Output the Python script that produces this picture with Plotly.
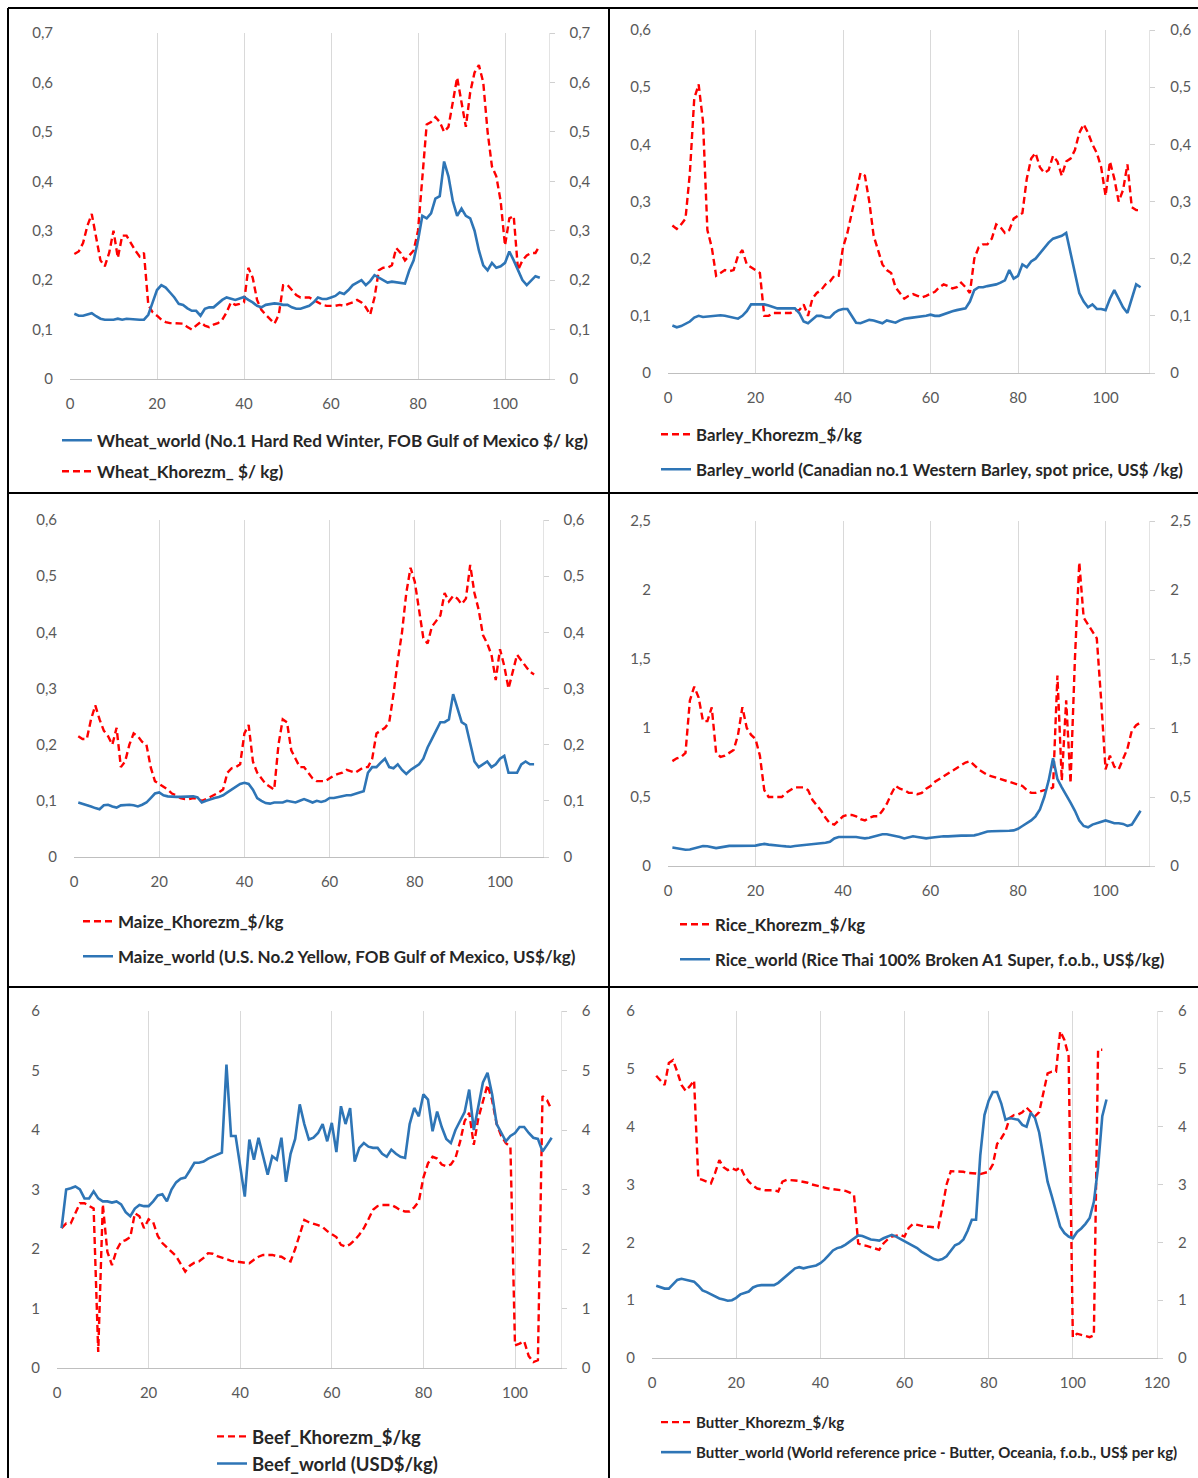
import plotly.graph_objects as go

wheat_world = [0.132,0.128,0.128,0.13,0.133,0.127,0.122,0.12,0.12,0.12,0.122,0.12,0.122,0.121,0.12,0.12,0.12,0.13,0.155,0.18,
0.19,0.185,0.175,0.165,0.152,0.15,0.143,0.138,0.138,0.128,0.142,0.145,0.145,0.152,0.16,0.165,0.163,0.16,0.163,0.166,
0.16,0.155,0.148,0.145,0.15,0.152,0.153,0.152,0.15,0.15,0.145,0.142,0.142,0.145,0.148,0.155,0.165,0.162,0.162,0.165,
0.168,0.175,0.172,0.18,0.19,0.195,0.2,0.19,0.198,0.21,0.205,0.2,0.195,0.197,0.196,0.195,0.193,0.22,0.24,0.28,
0.33,0.325,0.335,0.365,0.37,0.44,0.41,0.36,0.33,0.345,0.33,0.325,0.3,0.26,0.23,0.22,0.235,0.225,0.228,0.235,
0.258,0.24,0.22,0.2,0.19,0.2,0.208,0.205]
wheat_khorezm = [0.253,0.258,0.275,0.31,0.334,0.29,0.24,0.228,0.255,0.3,0.245,0.29,0.29,0.275,0.26,0.248,0.255,0.15,0.135,0.128,
0.12,0.115,0.113,0.113,0.113,0.112,0.105,0.1,0.108,0.115,0.108,0.105,0.11,0.113,0.12,0.135,0.155,0.15,0.152,0.155,
0.225,0.205,0.16,0.14,0.13,0.12,0.112,0.13,0.19,0.19,0.18,0.17,0.165,0.165,0.165,0.16,0.155,0.15,0.148,0.148,
0.148,0.15,0.148,0.152,0.155,0.16,0.155,0.145,0.13,0.165,0.22,0.225,0.225,0.23,0.265,0.255,0.24,0.25,0.26,0.3,
0.4,0.515,0.52,0.53,0.52,0.5,0.51,0.56,0.61,0.56,0.51,0.58,0.62,0.635,0.6,0.5,0.43,0.41,0.36,0.27,
0.325,0.33,0.22,0.24,0.25,0.255,0.255,0.27]

barley_khorezm = [0.258,0.252,0.26,0.27,0.35,0.48,0.505,0.44,0.25,0.22,0.17,0.175,0.18,0.178,0.18,0.205,0.215,0.19,0.185,0.18,
0.175,0.1,0.1,0.105,0.105,0.105,0.105,0.105,0.11,0.11,0.12,0.1,0.13,0.14,0.145,0.155,0.16,0.17,0.17,0.22,
0.245,0.28,0.31,0.35,0.345,0.3,0.24,0.215,0.19,0.18,0.175,0.15,0.14,0.13,0.135,0.138,0.135,0.132,0.135,0.138,
0.142,0.15,0.155,0.152,0.148,0.15,0.158,0.15,0.14,0.2,0.22,0.225,0.225,0.235,0.26,0.255,0.245,0.25,0.27,0.275,
0.28,0.34,0.375,0.385,0.36,0.35,0.355,0.38,0.37,0.345,0.37,0.375,0.39,0.42,0.435,0.42,0.4,0.385,0.36,0.31,
0.37,0.34,0.3,0.32,0.365,0.29,0.285,0.285]
barley_world = [0.083,0.08,0.082,0.086,0.09,0.097,0.1,0.098,0.099,0.1,0.1,0.101,0.1,0.098,0.097,0.095,0.1,0.108,0.12,0.12,
0.12,0.12,0.118,0.116,0.113,0.113,0.113,0.113,0.113,0.105,0.09,0.087,0.093,0.1,0.1,0.097,0.097,0.105,0.11,0.112,
0.112,0.1,0.088,0.087,0.09,0.093,0.092,0.09,0.087,0.092,0.09,0.088,0.092,0.095,0.096,0.097,0.097,0.098,0.1,0.102,
0.1,0.1,0.103,0.105,0.108,0.11,0.112,0.113,0.125,0.145,0.15,0.15,0.152,0.153,0.155,0.158,0.162,0.18,0.165,0.17,
0.19,0.185,0.195,0.2,0.21,0.22,0.228,0.235,0.237,0.24,0.245,0.21,0.17,0.14,0.125,0.115,0.12,0.112,0.112,0.11,
0.13,0.145,0.13,0.115,0.105,0.13,0.155,0.15]

maize_khorezm = [0.215,0.21,0.21,0.245,0.27,0.245,0.225,0.215,0.2,0.23,0.16,0.17,0.2,0.22,0.215,0.205,0.2,0.16,0.135,0.13,
0.125,0.12,0.113,0.11,0.105,0.103,0.103,0.105,0.103,0.1,0.103,0.107,0.11,0.115,0.12,0.15,0.158,0.16,0.165,0.22,
0.235,0.17,0.15,0.14,0.13,0.125,0.12,0.2,0.245,0.24,0.19,0.175,0.16,0.16,0.15,0.14,0.135,0.135,0.135,0.14,
0.145,0.148,0.15,0.155,0.152,0.15,0.155,0.16,0.16,0.175,0.22,0.225,0.23,0.24,0.29,0.35,0.4,0.47,0.515,0.49,
0.44,0.39,0.38,0.41,0.42,0.43,0.47,0.455,0.465,0.46,0.45,0.46,0.52,0.47,0.44,0.395,0.38,0.36,0.315,0.37,
0.34,0.3,0.33,0.36,0.35,0.34,0.33,0.325]
maize_world = [0.097,0.095,0.093,0.09,0.087,0.085,0.092,0.093,0.09,0.088,0.092,0.093,0.093,0.092,0.09,0.093,0.097,0.105,0.113,0.115,
0.11,0.108,0.107,0.107,0.107,0.107,0.107,0.108,0.106,0.097,0.1,0.103,0.105,0.107,0.11,0.115,0.12,0.125,0.13,0.132,
0.13,0.12,0.105,0.1,0.096,0.095,0.097,0.097,0.097,0.1,0.098,0.097,0.1,0.103,0.1,0.097,0.1,0.098,0.1,0.105,
0.105,0.107,0.108,0.11,0.11,0.113,0.115,0.117,0.15,0.16,0.16,0.168,0.175,0.16,0.158,0.165,0.155,0.148,0.155,0.16,
0.165,0.175,0.195,0.21,0.225,0.24,0.24,0.245,0.29,0.265,0.24,0.235,0.2,0.17,0.16,0.165,0.17,0.16,0.165,0.175,
0.18,0.15,0.15,0.15,0.165,0.17,0.165,0.165]

rice_khorezm = [0.76,0.78,0.79,0.82,1.2,1.3,1.22,1.05,1.05,1.15,0.82,0.79,0.8,0.82,0.84,0.95,1.15,1.0,0.95,0.92,
0.8,0.55,0.5,0.5,0.5,0.5,0.53,0.55,0.57,0.57,0.57,0.55,0.48,0.44,0.4,0.35,0.31,0.3,0.33,0.36,
0.37,0.37,0.36,0.34,0.33,0.35,0.36,0.36,0.4,0.45,0.52,0.58,0.56,0.55,0.53,0.53,0.52,0.53,0.56,0.58,
0.61,0.63,0.65,0.67,0.69,0.71,0.73,0.75,0.76,0.73,0.7,0.68,0.66,0.65,0.64,0.63,0.62,0.61,0.6,0.59,
0.58,0.55,0.53,0.53,0.54,0.55,0.55,0.57,1.38,0.62,1.2,0.6,1.5,2.2,1.8,1.75,1.7,1.65,1.2,0.7,
0.8,0.72,0.7,0.78,0.85,0.98,1.02,1.04]
rice_world = [0.134,0.13,0.125,0.118,0.12,0.128,0.138,0.145,0.143,0.135,0.13,0.135,0.142,0.146,0.146,0.146,0.146,0.146,0.146,0.148,
0.155,0.16,0.155,0.15,0.148,0.145,0.142,0.14,0.145,0.148,0.15,0.152,0.155,0.16,0.163,0.168,0.175,0.2,0.21,0.21,
0.212,0.215,0.21,0.205,0.2,0.205,0.215,0.225,0.23,0.23,0.225,0.22,0.21,0.2,0.205,0.215,0.21,0.205,0.2,0.205,
0.21,0.215,0.215,0.215,0.218,0.22,0.22,0.22,0.222,0.222,0.23,0.24,0.25,0.252,0.252,0.255,0.255,0.255,0.258,0.27,
0.29,0.31,0.33,0.36,0.41,0.5,0.62,0.78,0.63,0.57,0.52,0.46,0.4,0.33,0.29,0.28,0.3,0.31,0.32,0.33,
0.32,0.31,0.31,0.305,0.29,0.3,0.35,0.4]

beef_khorezm = [2.35,2.43,2.43,2.6,2.77,2.77,2.72,2.68,0.27,2.75,1.95,1.73,1.98,2.12,2.15,2.2,2.6,2.55,2.35,2.5,
2.45,2.22,2.1,2.03,1.95,1.88,1.75,1.62,1.72,1.77,1.79,1.85,1.93,1.92,1.88,1.86,1.83,1.8,1.79,1.79,
1.77,1.76,1.82,1.87,1.9,1.9,1.9,1.88,1.87,1.82,1.79,2.0,2.25,2.49,2.45,2.43,2.4,2.37,2.3,2.25,
2.2,2.07,2.04,2.08,2.15,2.24,2.35,2.5,2.66,2.72,2.74,2.74,2.74,2.7,2.65,2.63,2.63,2.7,2.8,3.2,
3.44,3.55,3.52,3.42,3.39,3.42,3.53,3.8,4.15,4.29,3.75,4.2,4.5,4.76,4.5,4.1,3.9,3.78,3.72,0.38,
0.41,0.45,0.2,0.1,0.13,4.57,4.5,4.34]
beef_world = [2.35,3.0,3.02,3.05,3.0,2.85,2.85,2.97,2.85,2.8,2.8,2.78,2.8,2.75,2.62,2.55,2.68,2.74,2.72,2.72,
2.8,2.9,2.92,2.8,3.0,3.12,3.18,3.2,3.32,3.45,3.45,3.47,3.52,3.55,3.58,3.62,5.1,3.9,3.9,3.4,
2.88,3.84,3.5,3.87,3.55,3.25,3.56,3.5,3.87,3.13,3.6,3.85,4.43,4.1,3.84,3.87,3.95,4.1,3.81,4.12,
3.63,4.4,4.1,4.37,3.47,3.7,3.78,3.72,3.7,3.7,3.6,3.55,3.67,3.6,3.55,3.53,4.1,4.37,4.23,4.6,
4.51,3.98,4.31,4.05,3.85,3.78,4.0,4.15,4.3,4.68,4.0,4.4,4.8,4.96,4.6,4.1,3.95,3.81,3.9,3.95,
4.05,4.05,3.95,3.87,3.85,3.64,3.75,3.87]

butter_khorezm = [4.88,4.8,4.72,5.1,5.15,4.95,4.72,4.62,4.7,4.8,3.1,3.08,3.05,3.02,3.2,3.42,3.3,3.25,3.28,3.25,
3.3,3.15,3.05,2.98,2.93,2.91,2.9,2.9,2.9,2.88,3.05,3.08,3.08,3.07,3.06,3.05,3.03,3.0,2.98,2.97,
2.95,2.93,2.92,2.91,2.9,2.89,2.86,2.82,1.98,1.95,1.94,1.92,1.9,1.87,1.98,2.05,2.1,2.12,2.13,2.1,
2.25,2.32,2.3,2.28,2.27,2.27,2.26,2.25,2.6,3.0,3.23,3.23,3.23,3.22,3.2,3.2,3.19,3.18,3.2,3.22,
3.35,3.7,3.8,3.92,4.15,4.2,4.21,4.25,4.33,4.25,4.18,4.25,4.6,4.92,4.95,4.95,5.65,5.5,5.22,0.36,
0.42,0.4,0.38,0.36,0.39,5.33,5.33]
butter_world = [1.25,1.23,1.2,1.2,1.28,1.35,1.37,1.35,1.33,1.32,1.25,1.17,1.14,1.1,1.07,1.03,1.01,0.99,1.0,1.04,
1.1,1.12,1.15,1.22,1.25,1.26,1.26,1.27,1.26,1.3,1.36,1.42,1.48,1.55,1.57,1.55,1.57,1.59,1.6,1.64,
1.7,1.78,1.86,1.9,1.92,1.96,2.01,2.07,2.12,2.11,2.08,2.05,2.04,2.03,2.07,2.1,2.13,2.1,2.06,2.02,
1.98,1.95,1.9,1.84,1.8,1.75,1.71,1.69,1.71,1.76,1.85,1.95,1.98,2.05,2.2,2.39,2.39,3.5,4.2,4.45,
4.6,4.6,4.4,4.12,4.15,4.13,4.12,4.03,4.0,4.24,4.15,3.9,3.5,3.05,2.8,2.55,2.27,2.16,2.1,2.07,
2.18,2.24,2.32,2.42,2.7,3.3,4.18,4.47]

x_ticks = [0, 20, 40, 60, 80, 100]
x_ticks_butter = [0, 20, 40, 60, 80, 100, 120]

# legend labels
L_WHEAT_W = "Wheat_world (No.1 Hard Red Winter, FOB Gulf of Mexico $/ kg)"
L_WHEAT_K = "Wheat_Khorezm_ $/ kg)"
L_BARLEY_K = "Barley_Khorezm_$/kg"
L_BARLEY_W = "Barley_world (Canadian no.1 Western Barley, spot price, US$ /kg)"
L_MAIZE_K = "Maize_Khorezm_$/kg"
L_MAIZE_W = "Maize_world (U.S. No.2 Yellow, FOB Gulf of Mexico, US$/kg)"
L_RICE_K = "Rice_Khorezm_$/kg"
L_RICE_W = "Rice_world (Rice Thai 100% Broken A1 Super, f.o.b., US$/kg)"
L_BEEF_K = "Beef_Khorezm_$/kg"
L_BEEF_W = "Beef_world (USD$/kg)"
L_BUTTER_K = "Butter_Khorezm_$/kg"
L_BUTTER_W = "Butter_world (World reference price - Butter, Oceania, f.o.b., US$ per kg)"

# ---------------- layout geometry (page pixels) ----------------
W, H = 1198, 1478
RED = "#FF0000"
BLUE = "#2E75B6"
TICKC = "#595959"
GRID = "#D9D9D9"
FONT = "Lato, 'Open Sans', sans-serif"

def px_x(p):
    return p / W

def px_y(p):
    return 1 - p / H

panels = [
    dict(series=[(L_WHEAT_W, wheat_world, "w"), (L_WHEAT_K, wheat_khorezm, "k")],
         xpx=(70, 548.5), ypx=(379, 33), xr=110, yr=0.7, dy=0.1, xt=x_ticks,
         leg=(98, 441, 31, 17.2)),
    dict(series=[(L_BARLEY_K, barley_khorezm, "k"), (L_BARLEY_W, barley_world, "w")],
         xpx=(668, 1149.3), ypx=(373, 30), xr=110, yr=0.6, dy=0.1, xt=x_ticks,
         leg=(697, 435, 35, 16.8)),
    dict(series=[(L_MAIZE_K, maize_khorezm, "k"), (L_MAIZE_W, maize_world, "w")],
         xpx=(74, 542.6), ypx=(857, 520), xr=110, yr=0.6, dy=0.1, xt=x_ticks,
         leg=(119, 922, 35, 17)),
    dict(series=[(L_RICE_K, rice_khorezm, "k"), (L_RICE_W, rice_world, "w")],
         xpx=(668, 1149.3), ypx=(866, 521), xr=110, yr=2.5, dy=0.5, xt=x_ticks,
         leg=(716, 925, 35, 16.8)),
    dict(series=[(L_BEEF_K, beef_khorezm, "k"), (L_BEEF_W, beef_world, "w")],
         xpx=(57, 560.8), ypx=(1368, 1011), xr=110, yr=6, dy=1, xt=x_ticks,
         leg=(253, 1437, 26, 18.5)),
    dict(series=[(L_BUTTER_K, butter_khorezm, "k"), (L_BUTTER_W, butter_world, "w")],
         xpx=(652, 1157), ypx=(1358, 1011), xr=120, yr=6, dy=1, xt=x_ticks_butter,
         leg=(697, 1423, 30, 15)),
]

fig = go.Figure()
layout = dict(
    width=W, height=H, autosize=False,
    margin=dict(l=0, r=0, t=0, b=0, autoexpand=False),
    paper_bgcolor="white", plot_bgcolor="white",
    separators=", ",
    font=dict(family=FONT, color=TICKC, size=15),
    showlegend=True,
)

for i, p in enumerate(panels, start=1):
    sx = "" if i == 1 else str(i)
    xname, yname, y2name = "x" + sx, "y" + sx, "y" + str(i + 6)
    legname = "legend" + sx
    xdom = [px_x(p["xpx"][0]), px_x(p["xpx"][1])]
    ydom = [px_y(p["ypx"][0]), px_y(p["ypx"][1])]

    layout["xaxis" + sx] = dict(
        domain=xdom, anchor=yname, range=[0, p["xr"]], tickvals=p["xt"],
        showgrid=True, gridcolor=GRID, gridwidth=1, zeroline=False,
        showline=True, linecolor="#BFBFBF", linewidth=1.2, ticks="",
        ticklabelstandoff=11, tickfont=dict(size=15, color=TICKC, family=FONT),
    )
    layout["yaxis" + sx] = dict(
        domain=ydom, anchor=xname, range=[0, p["yr"]], dtick=p["dy"], tick0=0,
        showgrid=False, zeroline=False, showline=False, ticks="",
        ticklabelstandoff=16, tickfont=dict(size=15, color=TICKC, family=FONT),
    )
    layout["yaxis" + str(i + 6)] = dict(
        overlaying=yname, side="right", anchor=xname, range=[0, p["yr"]], dtick=p["dy"], tick0=0,
        showgrid=False, zeroline=False, showline=True, linecolor="#E3E3E3", linewidth=1,
        ticks="outside", ticklen=5, tickcolor="#D0D0D0",
        ticklabelstandoff=12, tickfont=dict(size=15, color=TICKC, family=FONT),
    )

    tx, row1, gap, fs = p["leg"]
    item_h = 1.3 * fs + 3
    layout[legname] = dict(
        x=px_x(tx - 41), xanchor="left",
        y=px_y(row1 - (0.58 * fs + 8.4)), yanchor="top",
        bgcolor="rgba(0,0,0,0)", borderwidth=0,
        traceorder="grouped", tracegroupgap=max(gap - item_h, 0),
        font=dict(family=FONT, size=fs, color="#262626", weight="bold"),
        itemclick=False, itemdoubleclick=False,
    )

    for j, (label, vals, kind) in enumerate(p["series"]):
        xs = list(range(1, len(vals) + 1))
        if kind == "k":
            line = dict(color=RED, width=2.4, dash="7px,4px")
            ya = yname
        else:
            line = dict(color=BLUE, width=2.6)
            ya = y2name
        fig.add_trace(go.Scatter(
            x=xs, y=vals, mode="lines", name=label, line=line,
            xaxis=xname, yaxis=ya, legend=legname, legendgroup=f"g{i}_{j}",
        ))

# panel borders
shapes = []
def pline(x0, y0, x1, y1):
    shapes.append(dict(type="line", xref="paper", yref="paper",
                       x0=px_x(x0), y0=px_y(y0), x1=px_x(x1), y1=px_y(y1),
                       line=dict(color="black", width=2)))
pline(8, 8, 1198, 8)
pline(8, 8, 8, 1478)
pline(609, 8, 609, 1478)
pline(8, 493, 1198, 493)
pline(8, 987, 1198, 987)
layout["shapes"] = shapes

fig.update_layout(**layout)
fig.write_html(
    "out.html",
    config={"displayModeBar": False},
    post_script="document.body.style.margin='0';document.body.style.overflow='hidden';",
)
